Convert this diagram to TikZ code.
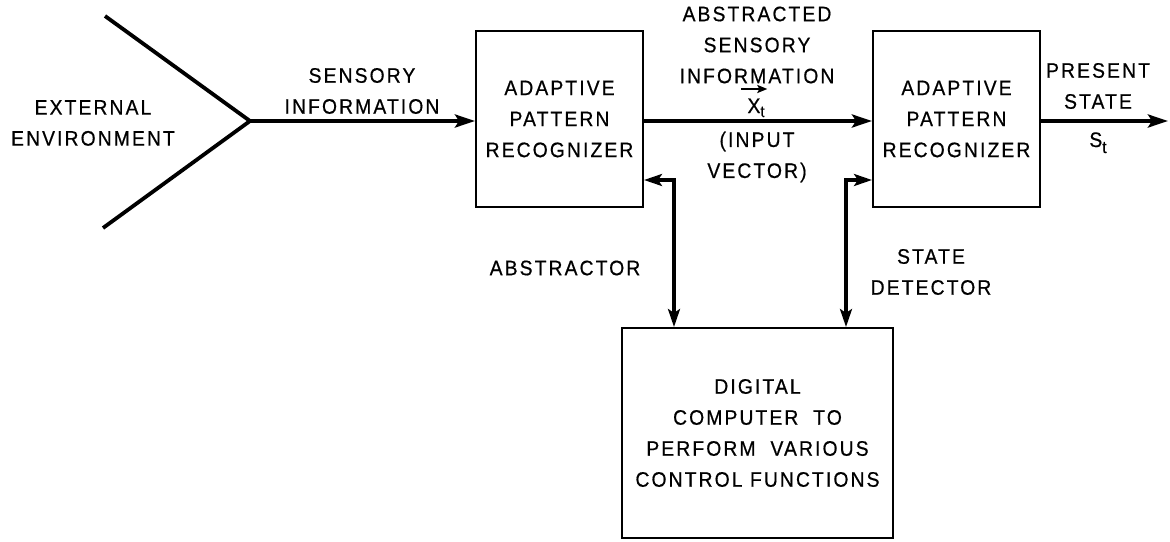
\documentclass[tikz,border=0pt]{standalone}
\usepackage{fontspec}
\setmainfont{Liberation Sans}[LetterSpace=10, FakeStretch=0.92, FakeBold=0.6]
\usetikzlibrary{arrows.meta}

\tikzset{
  block/.style={draw, line width=2pt, inner sep=0pt, align=center},
  lbl/.style={align=center, inner sep=0pt},
  flow/.style={line width=3.8pt, -{Stealth[length=20pt,width=13pt,inset=4pt]}},
  link/.style={line width=3.2pt, {Stealth[length=18pt,width=12pt,inset=4pt]}-{Stealth[length=18pt,width=12pt,inset=4pt]}},
}

\begin{document}
\begin{tikzpicture}[x=1pt, y=-1pt, font=\fontsize{21}{31}\selectfont]
\useasboundingbox (0,0) rectangle (1170,541);

% processing blocks
\node[block, minimum width=167pt, minimum height=176pt] (abs) at (559.5,119)
  {ADAPTIVE\\PATTERN\\RECOGNIZER};
\node[block, minimum width=167pt, minimum height=176pt] (det) at (956.5,119)
  {ADAPTIVE\\PATTERN\\RECOGNIZER};
\node[block, minimum width=271pt, minimum height=210pt] (comp) at (757.5,433)
  {DIGITAL\\COMPUTER\ \ TO\\PERFORM\ \ VARIOUS\\CONTROL FUNCTIONS};

% environment funnel
\coordinate (ctop) at (105,16);
\coordinate (apex) at (250,121);
\coordinate (cbot) at (103,228);
\coordinate (out) at (1168,121);
\draw[line width=3.8pt, line join=miter] (ctop) -- (apex) -- (cbot);

% signal path
\draw[flow] (apex) -- (apex -| abs.west);
\draw[flow] (apex -| abs.east) -- (apex -| det.west);
\draw[flow] (apex -| det.east) -- (out);

% control links
\coordinate (j1) at (674,180);
\coordinate (j2) at (846,180);
\draw[link, line join=miter] (j1 -| abs.east) -- (j1) -- (j1 |- comp.north);
\draw[link, line join=miter] (j2 -| det.west) -- (j2) -- (j2 |- comp.north);

% labels
\node[lbl] (envl) at (93,123) {EXTERNAL\\ENVIRONMENT};
\node[lbl] (sens) at (362,91) {SENSORY\\INFORMATION};
\node[lbl] (absinfo) at (757,45) {ABSTRACTED\\SENSORY\\INFORMATION};
\node[lbl, anchor=base] (xt) at (756,113) {X\raisebox{-4pt}{\fontsize{16}{16}\selectfont t}};
% vector mark over X
\draw[line width=2.4pt, -{Stealth[length=10pt,width=8pt,inset=2pt]}]
  ([xshift=-6pt,yshift=24pt]xt.base west) -- ([xshift=20pt,yshift=24pt]xt.base west);
\node[lbl] (vec) at (757,157) {(INPUT\\VECTOR)};
\node[lbl] (pres) at (1098,86) {PRESENT\\STATE};
\node[lbl, anchor=base] (st) at (1098,147) {S\raisebox{-6pt}{\fontsize{17}{17}\selectfont t}};
\node[lbl] (absname) at (565,268) {ABSTRACTOR};
\node[lbl] (detname) at (931,272) {STATE\\DETECTOR};
\end{tikzpicture}
\end{document}
